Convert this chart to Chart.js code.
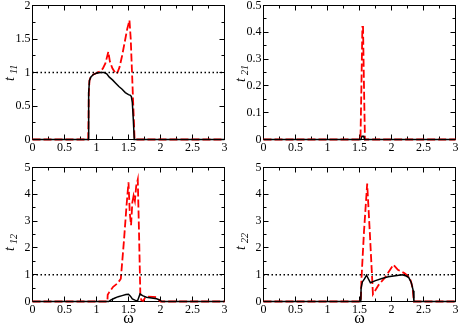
<!DOCTYPE html>
<html>
<head>
<meta charset="utf-8">
<script src="https://cdn.jsdelivr.net/npm/chart.js@4.4.0/dist/chart.umd.min.js"></script>
<style>
  html, body { margin: 0; padding: 0; background: #fff; }
  #wrap { position: relative; width: 459px; height: 329px; overflow: hidden; }
  #wrap canvas { position: absolute; }
</style>
</head>
<body>
<div id="wrap"></div>
<script>
/* =======================
   DATA
======================= */

const omegaTicks = [0, 0.5, 1, 1.5, 2, 2.5, 3];
const t11Ticks = [0, 0.5, 1, 1.5, 2];
const t21Ticks = [0, 0.1, 0.2, 0.3, 0.4, 0.5];
const t12Ticks = [0, 1, 2, 3, 4, 5];
const t22Ticks = [0, 1, 2, 3, 4, 5];
const unitLevel = 1;

// t11
const t11SolidW = [0, 0.87, 0.875, 0.88, 0.89, 0.91, 0.95, 1.0, 1.06, 1.12, 1.16, 1.2, 1.25, 1.3, 1.35, 1.4, 1.45, 1.5, 1.53, 1.545, 1.56, 1.575, 1.59, 3];
const t11SolidV = [0, 0, 0.3, 0.7, 0.88, 0.93, 0.97, 0.99, 1.0, 1.0, 0.98, 0.93, 0.89, 0.84, 0.79, 0.75, 0.7, 0.67, 0.66, 0.64, 0.55, 0.3, 0, 0];
const t11DashW = [0, 0.87, 0.875, 0.88, 0.89, 0.91, 0.95, 1.0, 1.06, 1.1, 1.14, 1.185, 1.21, 1.25, 1.29, 1.32, 1.36, 1.4, 1.44, 1.48, 1.515, 1.535, 1.555, 1.575, 1.595, 3];
const t11DashV = [0, 0, 0.3, 0.7, 0.88, 0.93, 0.97, 0.99, 1.02, 1.06, 1.14, 1.31, 1.16, 1.06, 1.0, 0.98, 1.08, 1.25, 1.45, 1.65, 1.78, 1.5, 1.0, 0.5, 0, 0];

// t21
const t21SolidW = [0, 1.52, 1.54, 1.565, 1.58, 3];
const t21SolidV = [0, 0, 0.012, 0.012, 0, 0];
const t21DashW = [0, 1.515, 1.53, 1.545, 1.555, 1.57, 1.585, 3];
const t21DashV = [0, 0, 0.2, 0.42, 0.42, 0.2, 0, 0];

// t12
const t12SolidW = [0, 1.19, 1.22, 1.28, 1.34, 1.4, 1.46, 1.5, 1.53, 1.56, 1.6, 1.64, 1.66, 1.68, 1.72, 1.78, 1.86, 1.94, 1.99, 2.02, 3];
const t12SolidV = [0, 0, 0.05, 0.12, 0.18, 0.22, 0.26, 0.27, 0.2, 0.1, 0.05, 0.02, 0.15, 0.28, 0.22, 0.16, 0.13, 0.1, 0.05, 0, 0];
const t12DashW = [0, 1.17, 1.175, 1.2, 1.26, 1.33, 1.38, 1.43, 1.47, 1.5, 1.52, 1.54, 1.56, 1.58, 1.6, 1.62, 1.645, 1.665, 1.685, 1.7, 1.73, 1.76, 1.8, 1.88, 1.94, 1.98, 2.0, 3];
const t12DashV = [0, 0, 0.25, 0.35, 0.55, 0.68, 0.85, 2.3, 3.6, 4.45, 3.3, 2.85, 3.7, 3.95, 3.75, 4.3, 4.55, 2.5, 0.25, 0.05, 0.02, 0.15, 0.18, 0.17, 0.16, 0.05, 0, 0];

// t22
const t22SolidW = [0, 1.52, 1.525, 1.545, 1.58, 1.61, 1.67, 1.75, 1.85, 1.95, 2.06, 2.17, 2.23, 2.27, 2.31, 2.34, 2.35, 3];
const t22SolidV = [0, 0, 0.5, 0.73, 0.85, 0.98, 0.7, 0.78, 0.86, 0.92, 0.96, 1.0, 0.95, 0.89, 0.7, 0.4, 0, 0];
const t22DashW = [0, 1.52, 1.53, 1.57, 1.62, 1.665, 1.71, 1.8, 1.9, 2.03, 2.1, 2.2, 2.26, 2.3, 2.33, 2.35, 3];
const t22DashV = [0, 0, 0.8, 2.6, 4.4, 2.4, 0.27, 0.62, 0.9, 1.37, 1.18, 1.06, 0.95, 0.78, 0.5, 0, 0];

/* =======================
   PANELS
======================= */

const SERIF = "'Liberation Serif', 'Times New Roman', serif";

// bottom canvases start higher so the top tick label is not cut
const panels = [
  { sub: "11", solid: [t11SolidW, t11SolidV], dash: [t11DashW, t11DashV], yTicks: t11Ticks, unit: true, omega: false,
    box: { left: 0, top: 0, w: 229, h: 164 }, area: { left: 32.5, top: 5.5, right: 224.5, bottom: 139.5 }, titleX: 14, titleY: 81, omegaY: 0 },
  { sub: "21", solid: [t21SolidW, t21SolidV], dash: [t21DashW, t21DashV], yTicks: t21Ticks, unit: false, omega: false,
    box: { left: 229, top: 0, w: 230, h: 164 }, area: { left: 34.5, top: 5.5, right: 226.5, bottom: 139.5 }, titleX: 16, titleY: 82, omegaY: 0 },
  { sub: "12", solid: [t12SolidW, t12SolidV], dash: [t12DashW, t12DashV], yTicks: t12Ticks, unit: true, omega: true,
    box: { left: 0, top: 150, w: 229, h: 179 }, area: { left: 32.5, top: 17.5, right: 224.5, bottom: 151.5 }, titleX: 14, titleY: 101, omegaY: 169 },
  { sub: "22", solid: [t22SolidW, t22SolidV], dash: [t22DashW, t22DashV], yTicks: t22Ticks, unit: true, omega: true,
    box: { left: 229, top: 150, w: 230, h: 179 }, area: { left: 34.5, top: 17.5, right: 226.5, bottom: 151.5 }, titleX: 16, titleY: 100, omegaY: 169 }
];

function toPoints(ws, vs) {
  return ws.map((w, i) => ({ x: w, y: vs[i] }));
}

function midpoints(arr) {
  const out = [];
  for (let i = 0; i < arr.length - 1; i++) out.push((arr[i] + arr[i + 1]) / 2);
  return out;
}

const snap = v => Math.round(v - 0.5) + 0.5;

/* frame, inward ticks, titles */
const framePlugin = {
  id: "frame",
  beforeDatasetsDraw(chart) {
    const { ctx, chartArea: a, scales: { x, y } } = chart;
    const p = chart.options.plugins.frame;
    ctx.save();
    ctx.strokeStyle = "#000";
    ctx.lineWidth = 1;
    ctx.strokeRect(a.left, a.top, a.right - a.left, a.bottom - a.top);

    ctx.beginPath();
    const xMaj = omegaTicks, xMin = midpoints(omegaTicks);
    xMaj.forEach(v => { const px = snap(x.getPixelForValue(v)); ctx.moveTo(px, a.bottom); ctx.lineTo(px, a.bottom - 5); ctx.moveTo(px, a.top); ctx.lineTo(px, a.top + 5); });
    xMin.forEach(v => { const px = snap(x.getPixelForValue(v)); ctx.moveTo(px, a.bottom); ctx.lineTo(px, a.bottom - 3); ctx.moveTo(px, a.top); ctx.lineTo(px, a.top + 3); });
    const yMaj = p.yTicks, yMin = midpoints(p.yTicks);
    yMaj.forEach(v => { const py = snap(y.getPixelForValue(v)); ctx.moveTo(a.left, py); ctx.lineTo(a.left + 5, py); ctx.moveTo(a.right, py); ctx.lineTo(a.right - 5, py); });
    yMin.forEach(v => { const py = snap(y.getPixelForValue(v)); ctx.moveTo(a.left, py); ctx.lineTo(a.left + 3, py); ctx.moveTo(a.right, py); ctx.lineTo(a.right - 3, py); });
    ctx.stroke();
    ctx.restore();
  },
  afterDraw(chart) {
    const { ctx, chartArea: a } = chart;
    const p = chart.options.plugins.frame;
    ctx.save();
    ctx.fillStyle = "#000";
    // y title: t with subscript
    ctx.translate(p.titleX, p.titleY);
    ctx.rotate(-Math.PI / 2);
    ctx.textBaseline = "alphabetic";
    ctx.textAlign = "left";
    ctx.font = "italic 14px " + SERIF;
    ctx.fillText("t", 0, 0);
    const tw = ctx.measureText("t").width;
    ctx.font = "italic 10px " + SERIF;
    ctx.fillText(p.sub, tw + 3, 3);
    ctx.restore();

    if (p.omega) {
      ctx.save();
      ctx.fillStyle = "#000";
      ctx.font = "16px " + SERIF;
      ctx.textAlign = "center";
      ctx.textBaseline = "middle";
      ctx.fillText("\u03c9", (a.left + a.right) / 2, p.omegaY);
      ctx.restore();
    }
  }
};

/* =======================
   CHARTS
======================= */

const wrap = document.getElementById("wrap");

panels.forEach(p => {
  const canvas = document.createElement("canvas");
  canvas.width = p.box.w;
  canvas.height = p.box.h;
  canvas.style.left = p.box.left + "px";
  canvas.style.top = p.box.top + "px";
  canvas.style.width = p.box.w + "px";
  canvas.style.height = p.box.h + "px";
  wrap.appendChild(canvas);

  const datasets = [];
  if (p.unit) {
    datasets.push({
      data: [{ x: 0, y: unitLevel }, { x: 3, y: unitLevel }],
      borderColor: "#000", borderWidth: 1.5, borderDash: [1.5, 2.5], pointRadius: 0, clip: false
    });
  }
  datasets.push({
    data: toPoints(p.solid[0], p.solid[1]),
    borderColor: "#000", borderWidth: 1.5, pointRadius: 0, tension: 0, clip: false
  });
  datasets.push({
    data: toPoints(p.dash[0], p.dash[1]),
    borderColor: "#ff0000", borderWidth: 1.8, borderDash: [8, 3], pointRadius: 0, tension: 0, clip: false
  });

  const yMax = p.yTicks[p.yTicks.length - 1];

  new Chart(canvas, {
    type: "line",
    data: { datasets },
    options: {
      responsive: false,
      animation: false,
      devicePixelRatio: 1,
      layout: { padding: { left: 0, top: p.area.top, right: p.box.w - p.area.right, bottom: 0 } },
      plugins: {
        legend: { display: false },
        tooltip: { enabled: false },
        frame: { yTicks: p.yTicks, sub: p.sub, omega: p.omega, titleX: p.titleX, titleY: p.titleY, omegaY: p.omegaY }
      },
      scales: {
        x: {
          type: "linear", min: 0, max: 3,
          grid: { display: false, drawTicks: false },
          border: { display: false },
          afterBuildTicks: s => { s.ticks = omegaTicks.map(v => ({ value: v })); },
          afterFit: s => { s.height = p.box.h - p.area.bottom; s.paddingLeft = 0; s.paddingRight = 0; },
          ticks: { color: "#000", font: { family: SERIF, size: 12 }, padding: 1, maxRotation: 0, autoSkip: false, callback: v => String(v) }
        },
        y: {
          type: "linear", min: 0, max: yMax,
          grid: { display: false, drawTicks: false },
          border: { display: false },
          afterBuildTicks: s => { s.ticks = p.yTicks.map(v => ({ value: v })); },
          afterFit: s => { s.width = p.area.left; s.paddingTop = 0; s.paddingBottom = 0; },
          ticks: { color: "#000", font: { family: SERIF, size: 12 }, padding: 2, autoSkip: false, callback: v => String(v) }
        }
      }
    },
    plugins: [framePlugin]
  });
});
</script>
</body>
</html>
